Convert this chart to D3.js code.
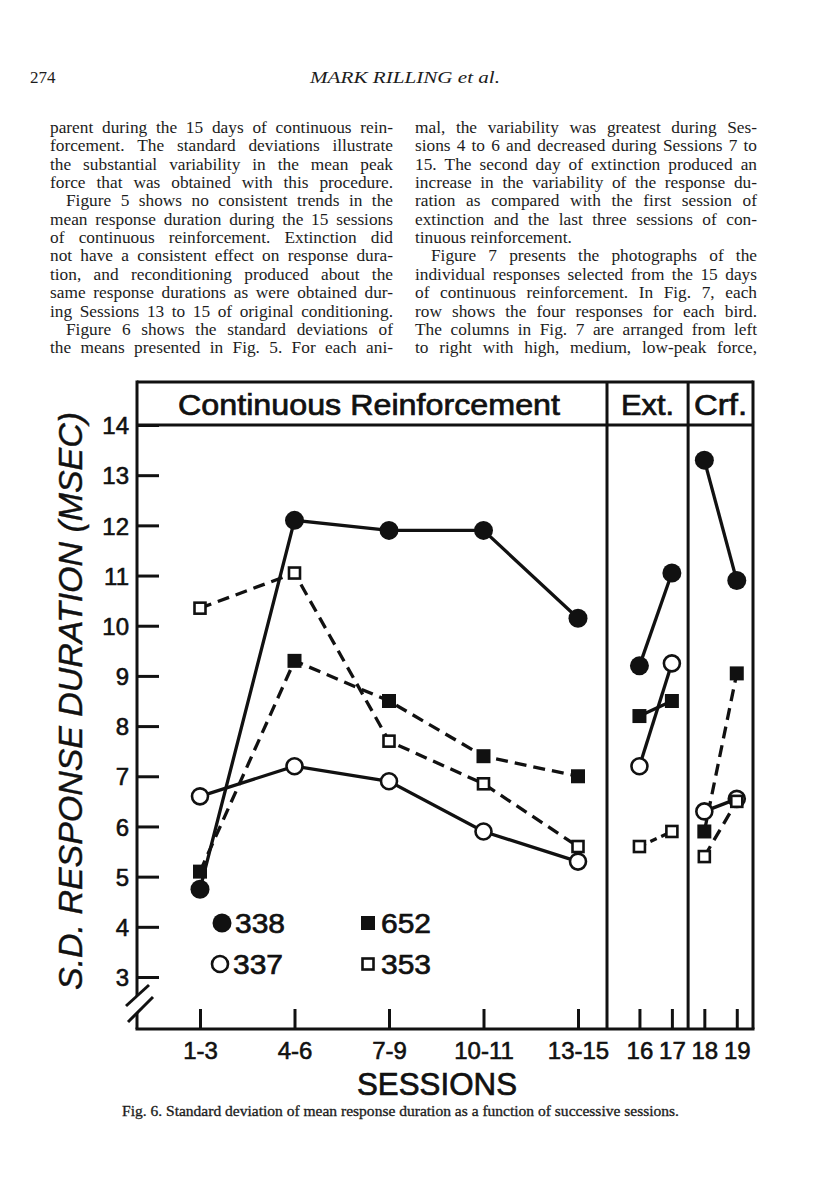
<!DOCTYPE html>
<html>
<head>
<meta charset="utf-8">
<script src="https://cdn.jsdelivr.net/npm/d3@7"></script>
<style>
  body { margin: 0; background: #fff; }
  .body-text { font-family: "Liberation Serif", "Times New Roman", serif; font-size: 16.5px; fill: #1c1c1c; }
  .letter { font-family: "Liberation Sans", Arial, sans-serif; fill: #111; stroke: #111; stroke-width: 0.7; }
  .axis text { font-family: "Liberation Sans", Arial, sans-serif; fill: #111; stroke: #111; stroke-width: 0.6; }
  .axis line { stroke: #111; stroke-width: 3; }
  .frame { stroke: #111; stroke-width: 3; fill: none; }
</style>
</head>
<body>
<div id="page"></div>
<script>
(function (d3) {
  'use strict';

  // data
  var sessions = ["1-3", "4-6", "7-9", "10-11", "13-15", "16", "17", "18", "19"];
  var sessionMid = [2, 5, 8, 11, 14, 16, 17, 18, 19];
  var phaseNames = ["Continuous Reinforcement", "Ext.", "Crf."];
  var phaseEdges = [0, 15, 17.5, 19.5];
  var phaseSessions = [[0, 1, 2, 3, 4], [5, 6], [7, 8]];
  var yTicks = [3, 4, 5, 6, 7, 8, 9, 10, 11, 12, 13, 14];

  var bird338 = [4.75, 12.1, 11.9, 11.9, 10.15, 9.2, 11.05, 13.3, 10.9];
  var bird337 = [6.6, 7.2, 6.9, 5.9, 5.3, 7.2, 9.25, 6.3, 6.55];
  var bird652 = [5.1, 9.3, 8.5, 7.4, 7.0, 8.2, 8.5, 5.9, 9.05];
  var bird353 = [10.35, 11.05, 7.7, 6.85, 5.6, 5.6, 5.9, 5.4, 6.5];

  // page text
  var leftLines = [
    "parent during the 15 days of continuous rein-",
    "forcement. The standard deviations illustrate",
    "the substantial variability in the mean peak",
    "force that was obtained with this procedure.",
    "Figure 5 shows no consistent trends in the",
    "mean response duration during the 15 sessions",
    "of continuous reinforcement. Extinction did",
    "not have a consistent effect on response dura-",
    "tion, and reconditioning produced about the",
    "same response durations as were obtained dur-",
    "ing Sessions 13 to 15 of original conditioning.",
    "Figure 6 shows the standard deviations of",
    "the means presented in Fig. 5. For each ani-"
  ];
  var leftIndent = [4, 11];
  var rightLines = [
    "mal, the variability was greatest during Ses-",
    "sions 4 to 6 and decreased during Sessions 7 to",
    "15. The second day of extinction produced an",
    "increase in the variability of the response du-",
    "ration as compared with the first session of",
    "extinction and the last three sessions of con-",
    "tinuous reinforcement.",
    "Figure 7 presents the photographs of the",
    "individual responses selected from the 15 days",
    "of continuous reinforcement. In Fig. 7, each",
    "row shows the four responses for each bird.",
    "The columns in Fig. 7 are arranged from left",
    "to right with high, medium, low-peak force,"
  ];
  var rightIndent = [7];
  var rightRagged = [6];

  var width = 816, height = 1193;
  var svg = d3.select('#page').append('svg')
    .attr('width', width).attr('height', height)
    .style('display', 'block');

  // running head
  svg.append('text').attr('class', 'body-text')
    .attr('x', 30).attr('y', 83).style('font-size', '17px').text('274');
  svg.append('text').attr('class', 'body-text')
    .attr('x', 405).attr('y', 83).attr('text-anchor', 'middle')
    .style('font-size', '17px').style('font-style', 'italic')
    .attr('textLength', 190).attr('lengthAdjust', 'spacingAndGlyphs')
    .text('MARK RILLING et al.');

  // justified column text
  var sx = 1.05, lineTop = 133, lineStep = 18.35, indentPx = 16;
  function column(lines, x0, w, indents, ragged) {
    var g = svg.append('g');
    lines.forEach(function (str, k) {
      var ind = indents.indexOf(k) >= 0 ? indentPx : 0;
      var t = g.append('text').attr('class', 'body-text')
        .attr('transform', 'translate(' + x0 + ',' + (lineTop + k * lineStep) + ') scale(' + sx + ',1)');
      var words = str.split(' ');
      var spans = words.map(function (wd) { return t.append('tspan').text(wd); });
      var widths = spans.map(function (s) { return s.node().getComputedTextLength(); });
      var total = d3.sum(widths);
      var target = (w - ind) / sx;
      var gap = (ragged.indexOf(k) >= 0 || words.length < 2) ? 4.2 : (target - total) / (words.length - 1);
      var cx = ind / sx;
      spans.forEach(function (s, i) { s.attr('x', cx); cx += widths[i] + gap; });
    });
  }
  column(leftLines, 50, 343, leftIndent, []);
  column(rightLines, 415, 342, rightIndent, rightRagged);

  // chart
  var frameTop = 382, frameBottom = 1029;
  var x = d3.scaleLinear().domain([0, 14, 15, 19.5]).range([137, 578, 607, 753]);
  var y = d3.scaleLinear().domain([3, 14]).range([977, 425]);
  var chart = svg.append('g');

  // y axis ticks pointing inward
  var yAxis = d3.axisLeft(y).tickValues(yTicks).tickSize(-22).tickPadding(8)
    .tickFormat(d3.format('d'));
  chart.append('g').attr('class', 'axis')
    .attr('transform', 'translate(' + x(0) + ',0)')
    .call(yAxis)
    .call(function (g) { g.select('.domain').remove(); })
    .selectAll('text').style('font-size', '24px').attr('dy', '0.36em');

  // x axis ticks pointing up
  var xAxis = d3.axisBottom(x).tickValues(sessionMid).tickSize(-20).tickPadding(13)
    .tickFormat(function (d, i) { return sessions[i]; });
  chart.append('g').attr('class', 'axis')
    .attr('transform', 'translate(0,' + frameBottom + ')')
    .call(xAxis)
    .call(function (g) { g.select('.domain').remove(); })
    .selectAll('text').style('font-size', '24px');

  // frame, header band and phase dividers
  var left = x(phaseEdges[0]), right = x(phaseEdges[3]);
  chart.append('line').attr('class', 'frame').attr('x1', left).attr('x2', right).attr('y1', frameTop).attr('y2', frameTop);
  chart.append('line').attr('class', 'frame').attr('x1', left - 1.5).attr('x2', right + 1.5).attr('y1', frameBottom).attr('y2', frameBottom);
  chart.append('line').attr('class', 'frame').attr('x1', left).attr('x2', right).attr('y1', y(14)).attr('y2', y(14));
  chart.append('line').attr('class', 'frame').attr('x1', right).attr('x2', right).attr('y1', frameTop - 1.5).attr('y2', frameBottom);
  chart.append('line').attr('class', 'frame').attr('x1', left).attr('x2', left).attr('y1', frameTop - 1.5).attr('y2', 996);
  chart.append('line').attr('class', 'frame').attr('x1', left).attr('x2', left).attr('y1', 1013).attr('y2', frameBottom);
  [phaseEdges[1], phaseEdges[2]].forEach(function (e) {
    chart.append('line').attr('class', 'frame').attr('x1', x(e)).attr('x2', x(e)).attr('y1', frameTop).attr('y2', frameBottom);
  });
  // axis break
  chart.append('line').attr('class', 'frame').attr('x1', left - 11).attr('y1', 1006).attr('x2', left + 12).attr('y2', 985);
  chart.append('line').attr('class', 'frame').attr('x1', left - 9).attr('y1', 1022).attr('x2', left + 16).attr('y2', 997);

  // phase titles
  var titleWidths = [382, 53, 53];
  phaseNames.forEach(function (n, i) {
    chart.append('text').attr('class', 'letter')
      .attr('x', (x(phaseEdges[i]) + x(phaseEdges[i + 1])) / 2 + (i === 0 ? -3 : 0))
      .attr('y', 415).attr('text-anchor', 'middle')
      .style('font-size', '29px')
      .attr('textLength', titleWidths[i]).attr('lengthAdjust', 'spacingAndGlyphs')
      .text(n);
  });

  // axis titles
  chart.append('text').attr('class', 'letter')
    .attr('transform', 'translate(82,701) rotate(-90)')
    .attr('text-anchor', 'middle').style('font-size', '33px').style('font-style', 'italic')
    .style('stroke-width', 0.4)
    .attr('textLength', 578).attr('lengthAdjust', 'spacingAndGlyphs')
    .text('S.D. RESPONSE DURATION (MSEC)');
  chart.append('text').attr('class', 'letter')
    .attr('x', 437).attr('y', 1095).attr('text-anchor', 'middle')
    .style('font-size', '32px')
    .attr('textLength', 160).attr('lengthAdjust', 'spacingAndGlyphs')
    .text('SESSIONS');

  // series
  var birds = [
    { id: '338', values: bird338, shape: 'circle', filled: true, dash: [null, null, null] },
    { id: '337', values: bird337, shape: 'circle', filled: false, dash: [null, null, null] },
    { id: '652', values: bird652, shape: 'square', filled: true, dash: ['12,7', null, '12,7'] },
    { id: '353', values: bird353, shape: 'square', filled: false, dash: ['12,7', '7,5', '12,7'] }
  ];

  birds.forEach(function (b) {
    var line = d3.line()
      .x(function (i) { return x(sessionMid[i]); })
      .y(function (i) { return y(b.values[i]); });
    phaseSessions.forEach(function (idx, p) {
      chart.append('path').attr('d', line(idx))
        .attr('fill', 'none').attr('stroke', '#111').attr('stroke-width', 3.3)
        .attr('stroke-dasharray', b.dash[p]);
    });
  });

  function marker(g, b, cx, cy) {
    if (b.shape === 'circle') {
      g.append('circle').attr('cx', cx).attr('cy', cy)
        .attr('r', b.filled ? 9.5 : 8)
        .attr('fill', b.filled ? '#111' : '#fff')
        .attr('stroke', '#111').attr('stroke-width', b.filled ? 0 : 2.6);
    } else {
      var s = b.filled ? 14 : 11;
      g.append('rect').attr('x', cx - s / 2).attr('y', cy - s / 2)
        .attr('width', s).attr('height', s)
        .attr('fill', b.filled ? '#111' : '#fff')
        .attr('stroke', '#111').attr('stroke-width', b.filled ? 0 : 2.6);
    }
  }

  birds.forEach(function (b) {
    b.values.forEach(function (v, i) { marker(chart, b, x(sessionMid[i]), y(v)); });
  });

  // legend
  var legendPos = { '338': [222, 923], '652': [368, 923], '337': [220, 964], '353': [368, 964] };
  birds.forEach(function (b) {
    var p = legendPos[b.id];
    marker(chart, b, p[0], p[1]);
    chart.append('text').attr('class', 'letter')
      .attr('x', p[0] + 13).attr('y', p[1] + 10)
      .style('font-size', '28px')
      .attr('textLength', 50).attr('lengthAdjust', 'spacingAndGlyphs')
      .text(b.id);
  });

  // caption
  svg.append('text').attr('class', 'body-text')
    .attr('x', 122).attr('y', 1116)
    .style('font-size', '14px').style('stroke', '#1c1c1c').style('stroke-width', 0.3)
    .attr('textLength', 557).attr('lengthAdjust', 'spacingAndGlyphs')
    .text('Fig. 6. Standard deviation of mean response duration as a function of successive sessions.');
})(window.d3);
</script>
</body>
</html>
